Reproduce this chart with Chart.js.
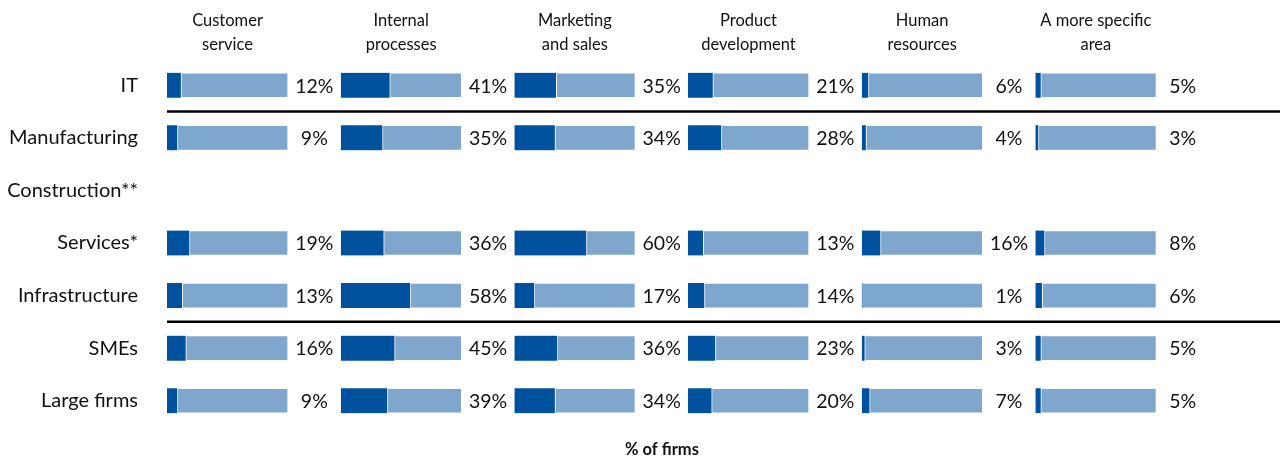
<!DOCTYPE html>
<html>
<head>
<meta charset="utf-8">
<title>AI use by business area</title>
<script src="https://cdn.jsdelivr.net/npm/chart.js@4.4.1/dist/chart.umd.min.js"></script>
<style>
  html, body { margin: 0; padding: 0; background: #ffffff; }
  #wrap { position: relative; width: 1280px; height: 459px; }
</style>
</head>
<body>
<div id="wrap"><canvas id="chart"></canvas></div>
<script>
// Groups of firms (rows)
const groups = ['IT', 'Manufacturing', 'Construction**', 'Services*', 'Infrastructure', 'SMEs', 'Large firms'];

// Business areas (columns), header text split into lines
const areaHeaders = [
  ['Customer', 'service'],
  ['Internal', 'processes'],
  ['Marketing', 'and sales'],
  ['Product', 'development'],
  ['Human', 'resources'],
  ['A more specific', 'area']
];

// Share of firms (%) per area, one value per group; Construction has no data
const customerService    = [12,  9, null, 19, 13, 16,  9];
const internalProcesses  = [41, 35, null, 36, 58, 45, 39];
const marketingSales     = [35, 34, null, 60, 17, 36, 34];
const productDevelopment = [21, 28, null, 13, 14, 23, 20];
const humanResources     = [ 6,  4, null, 16,  1,  3,  7];
const specificArea       = [ 5,  3, null,  8,  6,  5,  5];

const areaValues = [customerService, internalProcesses, marketingSales,
                    productDevelopment, humanResources, specificArea];

// Full track length of each cell (100% of firms)
const trackFull = 100;
// Each area's axis runs past 100 to leave room for the value label
const axisMax = 143.5;

const DARK = '#00519E';
const LIGHT = '#7FA7CE';
const FONT = 'Lato, "Open Sans", sans-serif';

const datasets = [];
const scales = {
  y: {
    type: 'category',
    position: 'left',
    grid: { display: false, drawTicks: false },
    border: { display: false },
    ticks: {
      color: '#111',
      padding: 29,
      font: { family: FONT, size: 20 }
    },
    afterFit(scale) {
      scale.width = 167;
      // labels sit inside the rows; no extra vertical overhang needed
      scale.paddingTop = 0;
      scale.paddingBottom = 0;
    }
  }
};

areaValues.forEach((vals, c) => {
  const axisId = 'x' + c;
  scales[axisId] = {
    type: 'linear',
    position: 'bottom',
    stack: 'areas',
    stackWeight: 1,
    min: 0,
    max: axisMax,
    grid: { display: false, drawTicks: false },
    border: { display: false },
    ticks: { display: false }
  };
  // value bar (drawn on top)
  datasets.push({
    label: areaHeaders[c].join(' '),
    data: vals,
    xAxisID: axisId,
    yAxisID: 'y',
    backgroundColor: DARK,
    borderColor: '#ffffff',
    borderWidth: { top: 0, bottom: 0, left: 0, right: 1 },
    borderSkipped: false,
    grouped: false,
    barThickness: 25,
    order: 0
  });
  // background track spanning 0..100%
  datasets.push({
    label: areaHeaders[c].join(' ') + ' track',
    data: vals.map(v => (v === null ? null : trackFull)),
    xAxisID: axisId,
    yAxisID: 'y',
    backgroundColor: LIGHT,
    borderColor: 'rgba(255,255,255,0.55)',
    borderWidth: 1,
    borderSkipped: false,
    grouped: false,
    barThickness: 25,
    order: 1
  });
});

// Headers, value labels, separators and axis caption
const annotate = {
  id: 'annotate',
  afterDatasetsDraw(chart) {
    const ctx = chart.ctx;
    const y = chart.scales.y;
    const area = chart.chartArea;
    ctx.save();

    // separators between sector / size blocks
    ctx.strokeStyle = '#000';
    ctx.lineWidth = 2.5;
    [[0, 1], [4, 5]].forEach(([a, b]) => {
      const yy = (y.getPixelForValue(a) + y.getPixelForValue(b)) / 2;
      ctx.beginPath();
      ctx.moveTo(area.left, yy);
      ctx.lineTo(chart.width, yy);
      ctx.stroke();
    });

    areaValues.forEach((vals, c) => {
      const xs = chart.scales['x' + c];

      // column header centred over the 0..100 track
      ctx.fillStyle = '#111';
      ctx.font = '16.5px ' + FONT;
      ctx.textAlign = 'center';
      ctx.textBaseline = 'middle';
      const hx = xs.getPixelForValue(trackFull / 2);
      areaHeaders[c].forEach((line, i) => ctx.fillText(line, hx, 21 + i * 23.5));

      // value labels in the gap after each track
      ctx.font = '19.5px ' + FONT;
      const lx = xs.getPixelForValue((trackFull + xs.max) / 2);
      vals.forEach((v, r) => {
        if (v === null) return;
        ctx.fillText(v + '%', lx, y.getPixelForValue(r) + 1);
      });
    });

    // axis caption
    ctx.font = 'bold 16.5px ' + FONT;
    ctx.fillText('% of firms', 662, 450);
    ctx.restore();
  }
};

new Chart(document.getElementById('chart'), {
  type: 'bar',
  data: { labels: groups, datasets },
  options: {
    indexAxis: 'y',
    responsive: true,
    maintainAspectRatio: false,
    animation: false,
    layout: { padding: { top: 59, bottom: 32, left: 0, right: 71 } },
    scales,
    plugins: {
      legend: { display: false },
      tooltip: { enabled: false },
      title: { display: false }
    }
  },
  plugins: [annotate]
});
</script>
</body>
</html>
